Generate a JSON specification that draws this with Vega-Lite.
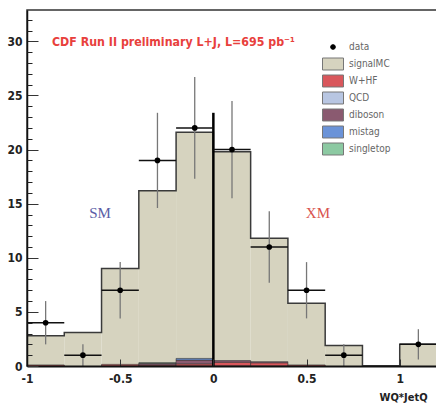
{
  "$schema": "https://vega.github.io/schema/vega-lite/v6.json",
  "width": 410,
  "height": 356,
  "autosize": {"type": "none"},
  "padding": {"left": 27, "top": 10, "right": 0, "bottom": 37},
  "background": "white",
  "config": {"view": {"stroke": "#333", "strokeWidth": 1.5}, "font": "Liberation Sans Narrow, DejaVu Sans Condensed, sans-serif", "axis": {"labelOverlap": false, "labelBound": false}},
  "datasets": {
    "hist": [
      {"lo": -1.0, "hi": -0.8, "comp": "signalMC", "n": 2.8},
      {"lo": -0.8, "hi": -0.6, "comp": "signalMC", "n": 3.1},
      {"lo": -0.6, "hi": -0.4, "comp": "signalMC", "n": 9.0},
      {"lo": -0.4, "hi": -0.2, "comp": "signalMC", "n": 16.2},
      {"lo": -0.2, "hi": 0.0, "comp": "signalMC", "n": 21.6},
      {"lo": 0.0, "hi": 0.2, "comp": "signalMC", "n": 19.8},
      {"lo": 0.2, "hi": 0.4, "comp": "signalMC", "n": 11.8},
      {"lo": 0.4, "hi": 0.6, "comp": "signalMC", "n": 5.8},
      {"lo": 0.6, "hi": 0.8, "comp": "signalMC", "n": 1.9},
      {"lo": 1.0, "hi": 1.2, "comp": "signalMC", "n": 2.0},
      {"lo": -1.0, "hi": -0.8, "comp": "W+HF", "n": 0.1},
      {"lo": -0.6, "hi": -0.4, "comp": "W+HF", "n": 0.15},
      {"lo": -0.4, "hi": -0.2, "comp": "W+HF", "n": 0.1},
      {"lo": -0.4, "hi": -0.2, "comp": "diboson", "n": 0.15},
      {"lo": -0.4, "hi": -0.2, "comp": "singletop", "n": 0.05},
      {"lo": -0.2, "hi": 0.0, "comp": "W+HF", "n": 0.2},
      {"lo": -0.2, "hi": 0.0, "comp": "diboson", "n": 0.35},
      {"lo": -0.2, "hi": 0.0, "comp": "mistag", "n": 0.15},
      {"lo": 0.0, "hi": 0.2, "comp": "W+HF", "n": 0.35},
      {"lo": 0.0, "hi": 0.2, "comp": "diboson", "n": 0.15},
      {"lo": 0.2, "hi": 0.4, "comp": "W+HF", "n": 0.3},
      {"lo": 0.2, "hi": 0.4, "comp": "diboson", "n": 0.1},
      {"lo": 0.4, "hi": 0.6, "comp": "W+HF", "n": 0.1}
    ],
    "outline": [
      {"x": -1.0, "y": 2.8}, {"x": -0.8, "y": 3.1}, {"x": -0.6, "y": 9.0},
      {"x": -0.4, "y": 16.2}, {"x": -0.2, "y": 21.6}, {"x": 0.0, "y": 19.8},
      {"x": 0.2, "y": 11.8}, {"x": 0.4, "y": 5.8}, {"x": 0.6, "y": 1.9},
      {"x": 0.8, "y": 0.0}, {"x": 1.0, "y": 2.0}, {"x": 1.2, "y": 2.0}
    ],
    "pts": [
      {"x": -0.9, "x0": -1.0, "x1": -0.8, "n": 4, "lo": 2.0, "hi": 6.0, "comp": "data"},
      {"x": -0.7, "x0": -0.8, "x1": -0.6, "n": 1, "lo": 0.0, "hi": 2.0, "comp": "data"},
      {"x": -0.5, "x0": -0.6, "x1": -0.4, "n": 7, "lo": 4.4, "hi": 9.6, "comp": "data"},
      {"x": -0.3, "x0": -0.4, "x1": -0.2, "n": 19, "lo": 14.6, "hi": 23.4, "comp": "data"},
      {"x": -0.1, "x0": -0.2, "x1": 0.0, "n": 22, "lo": 17.3, "hi": 26.7, "comp": "data"},
      {"x": 0.1, "x0": 0.0, "x1": 0.2, "n": 20, "lo": 15.5, "hi": 24.5, "comp": "data"},
      {"x": 0.3, "x0": 0.2, "x1": 0.4, "n": 11, "lo": 7.7, "hi": 14.3, "comp": "data"},
      {"x": 0.5, "x0": 0.4, "x1": 0.6, "n": 7, "lo": 4.4, "hi": 9.6, "comp": "data"},
      {"x": 0.7, "x0": 0.6, "x1": 0.8, "n": 1, "lo": 0.0, "hi": 2.0, "comp": "data"},
      {"x": 1.1, "x0": 1.0, "x1": 1.2, "n": 2, "lo": 0.6, "hi": 3.4, "comp": "data"}
    ],
    "zline": [{"x": 0, "y0": 0, "y1": 23.4}]
  },
  "resolve": {"scale": {"y": "independent"}, "axis": {"y": "independent"}},
  "layer": [
    {
      "layer": [
        {
          "data": {"name": "hist"},
          "transform": [{"filter": "datum.comp === 'signalMC'"}],
          "mark": {"type": "rect", "opacity": 1},
          "encoding": {
            "x": {
              "field": "lo", "type": "quantitative",
              "scale": {"domain": [-1, 1.2], "nice": false, "zero": false},
              "axis": {
                "values": [-1, -0.5, 0, 0.5, 1],
                "labelExpr": "'' + datum.value",
                "tickSize": -7, "tickColor": "#333", "tickWidth": 1,
                "labelPadding": 14, "labelFlush": false, "labelOverlap": false, "labelBound": false,
                "domainColor": "#111", "domainWidth": 2, "zindex": 1,
                "labelFont": "Liberation Sans Narrow, DejaVu Sans Condensed, sans-serif", "labelFontWeight": "bold", "labelFontSize": 12, "labelColor": "#222",
                "grid": false,
                "title": "WQ*JetQ", "titleX": 352, "titleY": 31, "titleAlign": "left", "titleAnchor": null,
                "titleBaseline": "middle", "titleFont": "Liberation Sans Narrow, DejaVu Sans Condensed, sans-serif", "titleFontSize": 11, "titleFontWeight": "bold", "titleColor": "#222"
              }
            },
            "x2": {"field": "hi"},
            "y": {
              "field": "n", "type": "quantitative",
              "scale": {"domain": [0, 32.9], "nice": false},
              "axis": {
                "orient": "left",
                "values": [0, 5, 10, 15, 20, 25, 30],
                "labelExpr": "'' + datum.value",
                "tickSize": -11, "zindex": 1,
                "tickColor": "#333", "labelPadding": 16, "labelOverlap": false, "labelBound": false, "labelFlush": false,
                "domainColor": "#111", "domainWidth": 1.5,
                "labelFont": "Liberation Sans Narrow, DejaVu Sans Condensed, sans-serif", "labelFontWeight": "bold", "labelFontSize": 12, "labelColor": "#222",
                "grid": false, "title": null
              }
            },
            "y2": {"datum": 0},
            "color": {
              "field": "comp", "type": "nominal",
              "scale": {
                "domain": ["data", "signalMC", "W+HF", "QCD", "diboson", "mistag", "singletop"],
                "range": ["#000000", "#d6d3bf", "#d9575c", "#b8c6e2", "#8a5a70", "#6b93d8", "#8cc9a2"]
              },
              "legend": {
                "orient": "none", "legendX": 295, "legendY": 28.5, "title": null,
                "symbolType": "M-1,-0.57H1V0.57H-1Z", "symbolSize": 441, "clipHeight": 17, "rowPadding": 0,
                "symbolStrokeColor": "#666", "symbolStrokeWidth": 1, "symbolOpacity": 1,
                "labelFont": "Liberation Sans Narrow, DejaVu Sans Condensed, sans-serif", "labelFontSize": 10, "labelColor": "#666", "labelOffset": 5,
                "encode": {
                  "symbols": {
                    "update": {
                      "shape": {"signal": "datum.value === 'data' ? 'circle' : 'M-1,-0.57H1V0.57H-1Z'"},
                      "size": {"signal": "datum.value === 'data' ? 22 : 441"},
                      "stroke": {"signal": "datum.value === 'data' ? '#000' : '#777'"}
                    }
                  }
                }
              }
            }
          }
        },
        {
          "data": {"name": "hist"},
          "transform": [
            {"filter": "datum.comp !== 'signalMC'"},
            {"stack": "n", "groupby": ["lo"], "as": ["s0", "s1"]}
          ],
          "mark": {"type": "rect", "opacity": 1, "stroke": "#333", "strokeWidth": 0.6},
          "encoding": {
            "x": {"field": "lo", "type": "quantitative"},
            "x2": {"field": "hi"},
            "y": {"field": "s0", "type": "quantitative"},
            "y2": {"field": "s1"},
            "color": {"field": "comp", "type": "nominal"}
          }
        },
        {
          "data": {"name": "outline"},
          "mark": {"type": "line", "interpolate": "step-after", "color": "#3a3a3a", "strokeWidth": 1.5},
          "encoding": {
            "x": {"field": "x", "type": "quantitative"},
            "y": {"field": "y", "type": "quantitative"}
          }
        },
        {
          "data": {"name": "zline"},
          "mark": {"type": "rule", "color": "#000", "strokeWidth": 2.5},
          "encoding": {
            "x": {"field": "x", "type": "quantitative"},
            "y": {"field": "y0", "type": "quantitative"},
            "y2": {"field": "y1"}
          }
        },
        {
          "data": {"name": "pts"},
          "mark": {"type": "rule", "color": "#777", "strokeWidth": 1.3},
          "encoding": {
            "x": {"field": "x", "type": "quantitative"},
            "y": {"field": "lo", "type": "quantitative"},
            "y2": {"field": "hi"}
          }
        },
        {
          "data": {"name": "pts"},
          "mark": {"type": "rule", "color": "#111", "strokeWidth": 1.5},
          "encoding": {
            "x": {"field": "x0", "type": "quantitative"},
            "x2": {"field": "x1"},
            "y": {"field": "n", "type": "quantitative"}
          }
        },
        {
          "data": {"name": "pts"},
          "mark": {"type": "point", "shape": "circle", "filled": true, "opacity": 1, "size": 32},
          "encoding": {
            "x": {"field": "x", "type": "quantitative"},
            "y": {"field": "n", "type": "quantitative"},
            "color": {"field": "comp", "type": "nominal"}
          }
        },
        {
          "data": {"values": [{"x": -0.866, "y": 29.9, "t": "CDF Run II preliminary L+J, L=695 pb⁻¹"}]},
          "mark": {"type": "text", "align": "left", "baseline": "middle", "color": "#e8403c", "fontWeight": "bold", "fontSize": 12.3, "font": "Liberation Sans Narrow, DejaVu Sans Condensed, sans-serif"},
          "encoding": {
            "x": {"field": "x", "type": "quantitative"},
            "y": {"field": "y", "type": "quantitative"},
            "text": {"field": "t"}
          }
        },
        {
          "data": {"values": [{"x": -0.608, "y": 14.1, "t": "SM"}]},
          "mark": {"type": "text", "align": "center", "baseline": "middle", "color": "#5a5ea6", "fontSize": 15, "font": "Liberation Serif"},
          "encoding": {
            "x": {"field": "x", "type": "quantitative"},
            "y": {"field": "y", "type": "quantitative"},
            "text": {"field": "t"}
          }
        },
        {
          "data": {"values": [{"x": 0.561, "y": 14.1, "t": "XM"}]},
          "mark": {"type": "text", "align": "center", "baseline": "middle", "color": "#d9534f", "fontSize": 15, "font": "Liberation Serif"},
          "encoding": {
            "x": {"field": "x", "type": "quantitative"},
            "y": {"field": "y", "type": "quantitative"},
            "text": {"field": "t"}
          }
        }
      ]
    },
    {
      "data": {"name": "outline"},
      "mark": {"type": "point", "opacity": 0},
      "encoding": {
        "x": {"field": "x", "type": "quantitative"},
        "y": {
          "field": "y", "type": "quantitative",
          "scale": {"domain": [0, 32.9], "nice": false},
          "axis": {
            "orient": "left",
            "values": [1,2,3,4,6,7,8,9,11,12,13,14,16,17,18,19,21,22,23,24,26,27,28,29,31,32],
            "tickSize": -5, "tickColor": "#222", "tickWidth": 1, "zindex": 1,
            "labels": false, "domain": false, "grid": false, "title": null, "offset": 0
          }
        }
      }
    }
  ]
}
